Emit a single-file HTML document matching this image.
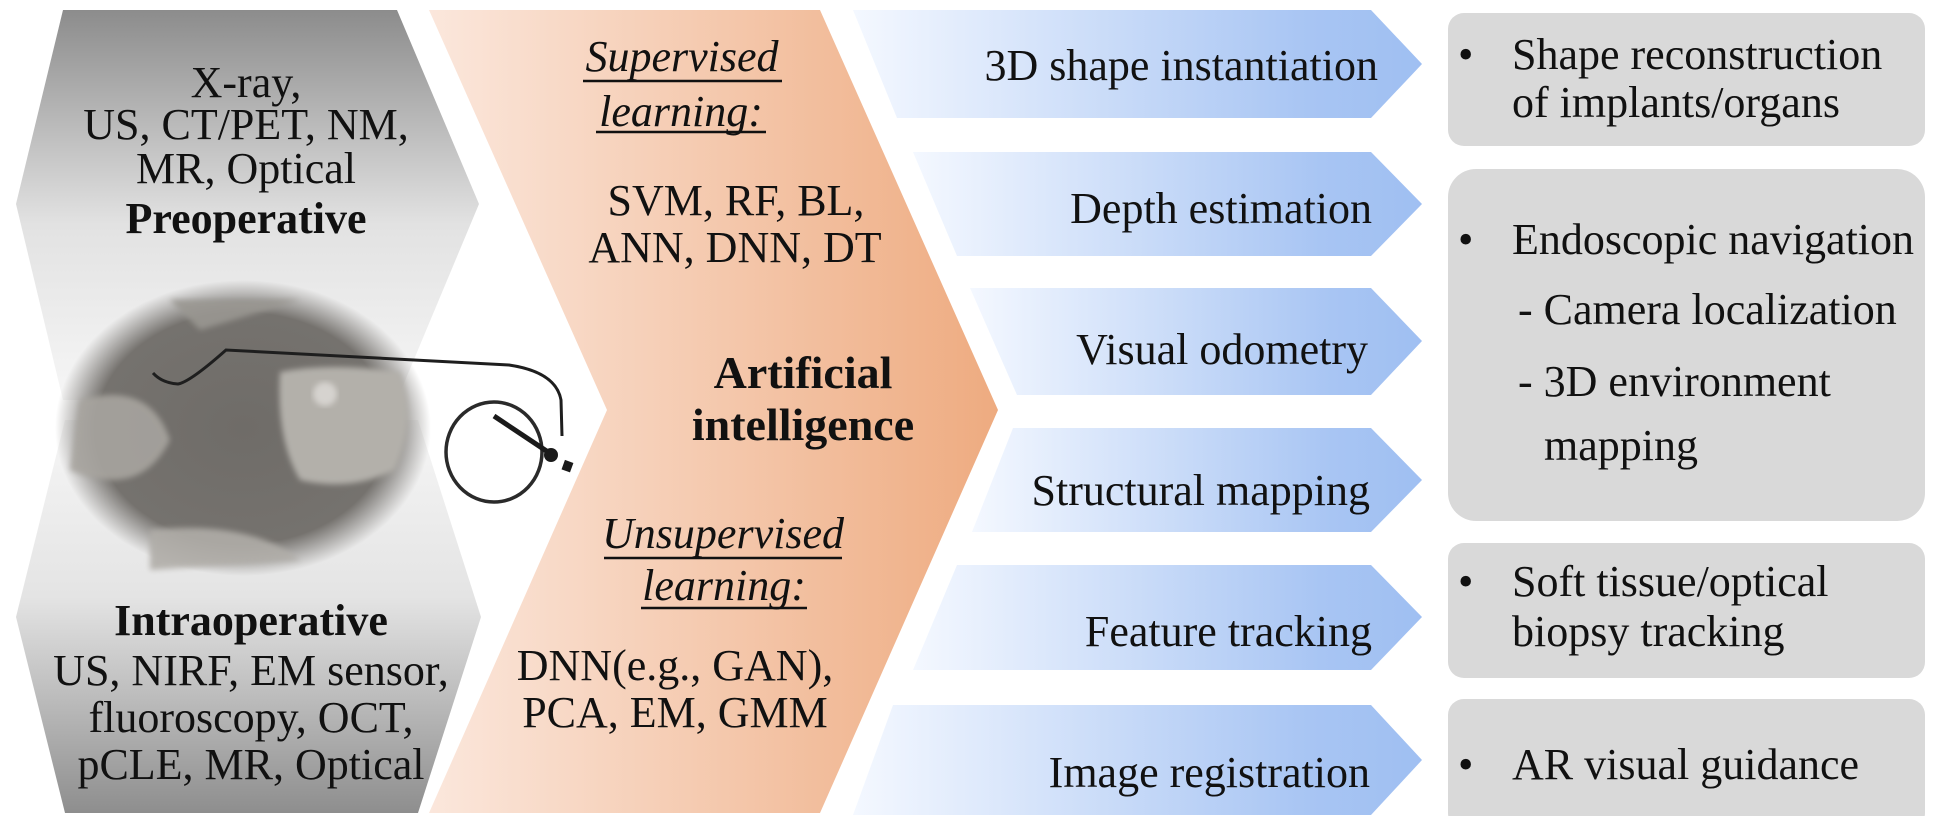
<!DOCTYPE html>
<html><head><meta charset="utf-8"><style>
html,body{margin:0;padding:0;background:#fff;}
svg{display:block;}
svg text{font-family:"Liberation Serif","Times New Roman",Times,serif !important;fill:#111;}
</style></head><body>
<svg width="1934" height="816" viewBox="0 0 1934 816" xmlns="http://www.w3.org/2000/svg" font-family="'Liberation Serif', 'Times New Roman', serif">
<defs>
<linearGradient id="gtop" x1="0" y1="0" x2="0" y2="1">
<stop offset="0" stop-color="#8c8c8c"/><stop offset="0.55" stop-color="#e2e2e2"/><stop offset="1" stop-color="#f6f6f6"/>
</linearGradient>
<linearGradient id="gbot" x1="0" y1="0" x2="0" y2="1">
<stop offset="0" stop-color="#f6f6f6"/><stop offset="0.45" stop-color="#e4e4e4"/><stop offset="1" stop-color="#8e8e8e"/>
</linearGradient>
<linearGradient id="gor" x1="429" y1="0" x2="998" y2="0" gradientUnits="userSpaceOnUse">
<stop offset="0" stop-color="#fbe7dc"/><stop offset="1" stop-color="#eeab80"/>
</linearGradient>
<linearGradient id="gbl" x1="0" y1="0" x2="1" y2="0">
<stop offset="0" stop-color="#f4f8ff"/><stop offset="0.8" stop-color="#a8c5f3"/><stop offset="1" stop-color="#9fbff2"/>
</linearGradient>
<radialGradient id="gx" cx="0.5" cy="0.5" r="0.5">
<stop offset="0" stop-color="#6f6c68"/><stop offset="0.78" stop-color="#75726e"/><stop offset="1" stop-color="#75726e" stop-opacity="0"/>
</radialGradient>
<filter id="bl"><feGaussianBlur stdDeviation="3"/></filter>
</defs>

<polygon points="63,10 397,10 479,204 397,400 63,400 16,204" fill="url(#gtop)"/>
<polygon points="65,420 418,420 481,617 418,813 65,813 16,617" fill="url(#gbot)"/>

<ellipse cx="243" cy="428" rx="188" ry="148" fill="url(#gx)"/>
<g filter="url(#bl)" opacity="0.9">
<path d="M80,400 Q150,380 170,440 Q140,500 70,470 Z" fill="#a7a49f"/>
<path d="M300,300 L200,330 L170,300 Z" fill="#9a9792"/>
<path d="M150,530 Q250,520 300,560 L150,570 Z" fill="#b0ada8"/>
</g>
<path d="M280,372 Q330,362 400,372 Q418,420 395,470 Q350,492 300,480 Q276,440 280,372 Z" fill="#b3b0aa" filter="url(#bl)"/>
<circle cx="325" cy="394" r="12" fill="#d6d3cf" filter="url(#bl)"/>
<path d="M153,373 Q162,383 178,384 Q190,382 226,350 L509,365 Q556,372 561,400 L562,436" fill="none" stroke="#1e1e1e" stroke-width="3"/>
<ellipse cx="494" cy="452" rx="48" ry="50" fill="none" stroke="#2a2a2a" stroke-width="3.5"/>
<line x1="494" y1="416" x2="548" y2="452" stroke="#1a1a1a" stroke-width="5"/>
<circle cx="551" cy="455" r="7" fill="#1a1a1a"/>
<rect x="563" y="461" width="9" height="10" fill="#1a1a1a" transform="rotate(20 567 466)"/>

<polygon points="429,10 820,10 998,410 820,813 429,813 607,410" fill="url(#gor)"/>

<polygon points="853,10 1371,10 1422,64 1371,118 897,118" fill="url(#gbl)"/>
<polygon points="913,152 1371,152 1422,204 1371,256 957,256" fill="url(#gbl)"/>
<polygon points="970,288 1371,288 1422,341 1371,395 1017,395" fill="url(#gbl)"/>
<polygon points="1013,428 1371,428 1422,480 1371,532 972,532" fill="url(#gbl)"/>
<polygon points="957,565 1371,565 1422,617 1371,670 913,670" fill="url(#gbl)"/>
<polygon points="893,705 1371,705 1422,760 1371,815 853,815" fill="url(#gbl)"/>

<rect x="1448" y="13" width="477" height="133" rx="16" fill="#d9d9d9"/>
<rect x="1448" y="169" width="477" height="352" rx="28" fill="#d9d9d9"/>
<rect x="1448" y="543" width="477" height="135" rx="16" fill="#d9d9d9"/>
<rect x="1448" y="699" width="477" height="130" rx="16" fill="#d9d9d9"/>

<g font-size="44" text-anchor="middle">
<text x="246" y="97">X-ray,</text>
<text x="246" y="139">US, CT/PET, NM,</text>
<text x="246" y="183">MR, Optical</text>
<text x="246" y="233" font-weight="bold">Preoperative</text>
<text x="251" y="635" font-weight="bold">Intraoperative</text>
<text x="251" y="685">US, NIRF, EM sensor,</text>
<text x="251" y="732">fluoroscopy, OCT,</text>
<text x="251" y="779">pCLE, MR, Optical</text>
</g>

<g font-size="44" text-anchor="middle">
<text x="682" y="71" font-style="italic">Supervised</text>
<text x="681" y="126" font-style="italic">learning:</text>
<text x="736" y="215">SVM, RF, BL,</text>
<text x="735" y="262">ANN, DNN, DT</text>
<text x="803" y="388" font-weight="bold" font-size="46">Artificial</text>
<text x="803" y="440" font-weight="bold" font-size="46">intelligence</text>
<text x="723" y="548" font-style="italic">Unsupervised</text>
<text x="724" y="600" font-style="italic">learning:</text>
<text x="675" y="680">DNN(e.g., GAN),</text>
<text x="675" y="727">PCA, EM, GMM</text>
</g>
<g stroke="#111" stroke-width="2.5">
<line x1="583" y1="81" x2="782" y2="81"/>
<line x1="596" y1="132" x2="766" y2="132"/>
<line x1="604" y1="558" x2="842" y2="558"/>
<line x1="641" y1="608" x2="807" y2="608"/>
</g>

<g font-size="44" text-anchor="end">
<text x="1378" y="80">3D shape instantiation</text>
<text x="1372" y="223">Depth estimation</text>
<text x="1368" y="364">Visual odometry</text>
<text x="1370" y="505">Structural mapping</text>
<text x="1372" y="646">Feature tracking</text>
<text x="1370" y="787">Image registration</text>
</g>

<g font-size="44">
<text x="1458" y="69">•</text>
<text x="1512" y="69">Shape reconstruction</text>
<text x="1512" y="117">of implants/organs</text>
<text x="1458" y="254">•</text>
<text x="1512" y="254">Endoscopic navigation</text>
<text x="1518" y="324">- Camera localization</text>
<text x="1518" y="396">- 3D environment</text>
<text x="1544" y="460">mapping</text>
<text x="1458" y="596">•</text>
<text x="1512" y="596">Soft tissue/optical</text>
<text x="1512" y="646">biopsy tracking</text>
<text x="1458" y="779">•</text>
<text x="1512" y="779">AR visual guidance</text>
</g>
</svg>
</body></html>
